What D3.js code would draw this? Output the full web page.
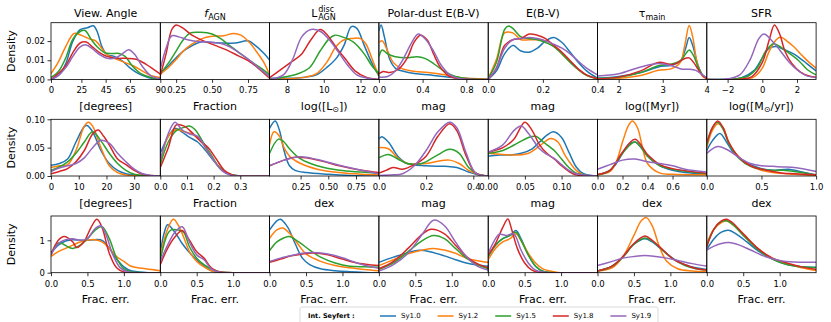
<!DOCTYPE html>
<html lang="en">
<head>
<meta charset="UTF-8">
<title>Seyfert KDE grid</title>
<script src="https://d3js.org/d3.v7.min.js"></script>
<style>
  body { margin: 0; background: #fff; }
  svg text { font-family: "DejaVu Sans", sans-serif; fill: #000; }
</style>
</head>
<body>
<script>
// series names and colours (matplotlib tab10)
const seriesNames = ["Sy1.0", "Sy1.2", "Sy1.5", "Sy1.8", "Sy1.9"];
const seriesColors = ["#1f77b4", "#ff7f0e", "#2ca02c", "#d62728", "#9467bd"];

// ---- row 1: parameter values ----
const angleDens = [
  [[0,0],[6,0.002],[12,0.008],[18,0.02],[24,0.026],[30,0.027],[35,0.028],[38,0.025],[42,0.017],[46,0.013],[52,0.012],[58,0.010],[65,0.006],[72,0.003],[80,0.001],[90,0]],
  [[0,0.003],[6,0.009],[12,0.017],[19,0.024],[25,0.023],[32,0.021],[37,0.02],[42,0.016],[46,0.013],[52,0.011],[60,0.009],[68,0.007],[75,0.0045],[82,0.002],[90,0.001]],
  [[0,0.001],[6,0.004],[12,0.011],[18,0.021],[24,0.025],[28,0.0255],[33,0.021],[38,0.017],[44,0.014],[50,0.0135],[56,0.0135],[61,0.012],[67,0.007],[74,0.003],[82,0.001],[90,0]],
  [[0,0],[6,0.003],[12,0.007],[18,0.014],[24,0.019],[29,0.0195],[34,0.017],[40,0.014],[46,0.012],[54,0.011],[62,0.011],[70,0.0105],[78,0.008],[85,0.005],[90,0.0028]],
  [[0,0],[6,0.002],[12,0.006],[18,0.012],[24,0.017],[29,0.018],[34,0.016],[40,0.013],[46,0.011],[52,0.011],[58,0.013],[64,0.0155],[69,0.013],[75,0.007],[82,0.002],[90,0.0003]]
];
const fagnDens = [
  [[0.14,0.1],[0.2,0.25],[0.25,0.38],[0.3,0.5],[0.35,0.58],[0.42,0.66],[0.5,0.65],[0.58,0.64],[0.66,0.64],[0.75,0.68],[0.8,0.6],[0.86,0.46],[0.9,0.34]],
  [[0.14,0.09],[0.2,0.22],[0.25,0.35],[0.3,0.5],[0.36,0.62],[0.43,0.72],[0.5,0.76],[0.58,0.77],[0.65,0.81],[0.7,0.78],[0.76,0.65],[0.82,0.45],[0.86,0.3],[0.9,0.08]],
  [[0.14,0.1],[0.2,0.3],[0.25,0.5],[0.3,0.7],[0.35,0.82],[0.42,0.83],[0.5,0.8],[0.56,0.72],[0.62,0.6],[0.7,0.45],[0.78,0.3],[0.85,0.18],[0.9,0.08]],
  [[0.14,0.07],[0.18,0.45],[0.22,0.88],[0.25,0.96],[0.3,0.9],[0.36,0.78],[0.44,0.68],[0.52,0.6],[0.6,0.52],[0.68,0.42],[0.75,0.33],[0.82,0.2],[0.9,0.02]],
  [[0.14,0.18],[0.18,0.55],[0.22,0.77],[0.27,0.75],[0.33,0.7],[0.4,0.67],[0.48,0.66],[0.55,0.64],[0.62,0.58],[0.7,0.45],[0.78,0.3],[0.85,0.15],[0.9,0.05]]
];
const ldiscDens = [
  [[7.05,0.02],[8,0.02],[9,0.04],[9.6,0.08],[10.2,0.22],[10.7,0.38],[11.1,0.6],[11.5,0.93],[11.8,0.9],[12.2,0.6],[12.6,0.3],[13,0.06]],
  [[7.05,0],[8,0.01],[9,0.04],[9.6,0.1],[10.2,0.32],[10.6,0.55],[11,0.68],[11.5,0.72],[12,0.72],[12.3,0.62],[12.7,0.3],[13,0.06]],
  [[7.05,0],[8,0.05],[8.6,0.1],[9.2,0.2],[9.8,0.5],[10.3,0.72],[10.6,0.78],[11,0.75],[11.6,0.66],[12.2,0.45],[12.6,0.25],[13,0.1]],
  [[7.05,0.03],[7.6,0.16],[8.2,0.3],[8.8,0.45],[9.3,0.7],[9.8,0.88],[10.2,0.78],[10.7,0.55],[11.2,0.35],[11.7,0.15],[12.3,0.04],[13,0]],
  [[7.05,0],[7.8,0.08],[8.3,0.35],[8.8,0.75],[9.3,0.88],[9.8,0.85],[10.3,0.7],[10.8,0.48],[11.3,0.25],[11.8,0.08],[12.4,0.02],[13,0]]
];
const polarDens = [
  [[0,0.85],[0.02,0.96],[0.05,0.75],[0.1,0.35],[0.15,0.2],[0.25,0.13],[0.35,0.1],[0.5,0.07],[0.7,0.03],[0.85,0.01],[1,0]],
  [[0,0.65],[0.03,0.68],[0.08,0.5],[0.13,0.3],[0.2,0.2],[0.3,0.15],[0.45,0.12],[0.6,0.08],[0.75,0.03],[0.9,0.01],[1,0]],
  [[0,0.4],[0.03,0.52],[0.08,0.45],[0.15,0.4],[0.25,0.38],[0.35,0.4],[0.42,0.37],[0.5,0.28],[0.6,0.14],[0.7,0.05],[0.85,0.01],[1,0]],
  [[0,0.1],[0.04,0.14],[0.1,0.12],[0.18,0.18],[0.26,0.38],[0.32,0.65],[0.38,0.78],[0.44,0.7],[0.5,0.45],[0.56,0.22],[0.64,0.06],[0.75,0.01],[1,0]],
  [[0,0.04],[0.08,0.05],[0.15,0.15],[0.22,0.35],[0.3,0.65],[0.36,0.8],[0.42,0.72],[0.5,0.5],[0.57,0.25],[0.65,0.08],[0.75,0.01],[1,0]]
];
const ebvDens = [
  [[0,0],[0.03,0.15],[0.06,0.45],[0.09,0.6],[0.12,0.5],[0.15,0.48],[0.18,0.55],[0.21,0.68],[0.24,0.74],[0.27,0.65],[0.3,0.48],[0.33,0.3],[0.36,0.15],[0.4,0.02]],
  [[0,0.02],[0.03,0.35],[0.06,0.82],[0.09,0.82],[0.12,0.7],[0.15,0.7],[0.18,0.7],[0.21,0.68],[0.24,0.6],[0.27,0.45],[0.3,0.32],[0.33,0.18],[0.36,0.07],[0.4,0.01]],
  [[0,0.02],[0.03,0.3],[0.06,0.88],[0.075,0.94],[0.09,0.9],[0.12,0.75],[0.15,0.72],[0.18,0.7],[0.21,0.65],[0.24,0.58],[0.27,0.45],[0.3,0.3],[0.33,0.17],[0.36,0.07],[0.4,0.01]],
  [[0,0],[0.03,0.2],[0.06,0.6],[0.09,0.7],[0.12,0.72],[0.15,0.8],[0.18,0.78],[0.21,0.72],[0.24,0.6],[0.27,0.48],[0.3,0.33],[0.33,0.18],[0.36,0.08],[0.4,0.01]],
  [[0,0],[0.03,0.2],[0.06,0.55],[0.09,0.7],[0.12,0.72],[0.15,0.74],[0.18,0.72],[0.21,0.68],[0.24,0.62],[0.27,0.55],[0.3,0.45],[0.33,0.32],[0.36,0.2],[0.4,0.08]]
];
const tauDens = [
  [[1.52,0.02],[2,0.05],[2.5,0.12],[2.9,0.22],[3.2,0.25],[3.4,0.32],[3.52,0.55],[3.6,0.74],[3.68,0.6],[3.8,0.25],[3.9,0.08],[4,0.02]],
  [[1.52,0.01],[2,0.02],[2.5,0.07],[2.9,0.16],[3.2,0.19],[3.4,0.3],[3.5,0.6],[3.6,0.95],[3.68,0.75],[3.78,0.3],[3.9,0.06],[4,0.01]],
  [[1.52,0.02],[2,0.04],[2.5,0.12],[2.9,0.24],[3.2,0.27],[3.4,0.33],[3.52,0.45],[3.6,0.52],[3.7,0.42],[3.8,0.22],[3.9,0.08],[4,0.02]],
  [[1.52,0.01],[2,0.04],[2.5,0.15],[2.9,0.3],[3.2,0.26],[3.35,0.3],[3.5,0.37],[3.6,0.38],[3.7,0.3],[3.8,0.18],[3.9,0.07],[4,0.02]],
  [[1.52,0.06],[2,0.1],[2.5,0.22],[2.9,0.28],[3.2,0.24],[3.45,0.18],[3.6,0.18],[3.75,0.16],[3.9,0.08],[4,0.03]]
];
const sfrDens = [
  [[-3.2,0],[-2,0],[-1.2,0.03],[-0.5,0.15],[0,0.38],[0.4,0.55],[0.8,0.58],[1.3,0.52],[1.8,0.45],[2.4,0.32],[2.8,0.22],[3.1,0.15]],
  [[-3.2,0],[-1.2,0],[-0.5,0.04],[0,0.2],[0.4,0.5],[0.8,0.7],[1.05,0.75],[1.4,0.68],[1.8,0.58],[2.3,0.42],[2.7,0.3],[3.1,0.2]],
  [[-3.2,0],[-1.5,0.01],[-0.8,0.06],[-0.3,0.2],[0.2,0.5],[0.65,0.63],[1.1,0.56],[1.6,0.45],[2.1,0.33],[2.6,0.17],[3.1,0.08]],
  [[-3.2,0],[-1.5,0],[-0.6,0.05],[0,0.3],[0.4,0.7],[0.7,0.96],[1,0.8],[1.3,0.5],[1.7,0.28],[2.2,0.13],[2.7,0.06],[3.1,0.04]],
  [[-3.2,0],[-2,0.01],[-1.3,0.08],[-0.7,0.35],[-0.2,0.72],[0.1,0.8],[0.5,0.7],[1,0.52],[1.5,0.32],[2,0.17],[2.5,0.07],[3.1,0.03]]
];

// ---- row 2: uncertainties ----
const angleErr = [
  [[0,0.019],[3,0.022],[6,0.03],[9,0.06],[12,0.087],[13,0.089],[15,0.078],[18,0.045],[21,0.022],[24,0.01],[27,0.004],[30,0.002],[33,0.0005],[39.4,0]],
  [[0,0.015],[3,0.018],[6,0.02],[9,0.045],[12,0.088],[13.5,0.095],[15,0.088],[18,0.05],[21,0.018],[24,0.006],[27,0.002],[30,0.0005],[39.4,0]],
  [[0,0.01],[3,0.016],[6,0.025],[9,0.04],[12,0.06],[15,0.078],[18,0.062],[21,0.04],[24,0.022],[27,0.01],[30,0.003],[33,0.001],[39.4,0]],
  [[0,0.004],[3,0.008],[6,0.013],[9,0.025],[12,0.045],[15,0.074],[17,0.081],[19,0.07],[21,0.055],[24,0.03],[27,0.02],[30,0.01],[33,0.003],[36,0.001],[39.4,0]],
  [[0,0.008],[3,0.014],[6,0.018],[9,0.022],[12,0.032],[15,0.05],[18,0.063],[21,0.058],[24,0.04],[27,0.025],[30,0.012],[33,0.004],[36,0.001],[39.4,0]]
];
const fagnErr = [
  [[0,0.4],[0.03,0.7],[0.055,0.84],[0.08,0.78],[0.11,0.68],[0.14,0.6],[0.17,0.45],[0.2,0.27],[0.23,0.11],[0.26,0.03],[0.3,0],[0.41,0]],
  [[0,0.22],[0.03,0.7],[0.06,0.82],[0.09,0.78],[0.12,0.74],[0.15,0.62],[0.18,0.42],[0.21,0.22],[0.24,0.08],[0.27,0.02],[0.3,0],[0.41,0]],
  [[0,0.2],[0.03,0.6],[0.06,0.8],[0.09,0.86],[0.11,0.88],[0.13,0.82],[0.16,0.6],[0.19,0.38],[0.22,0.16],[0.25,0.05],[0.28,0.01],[0.41,0]],
  [[0,0.15],[0.03,0.5],[0.06,0.9],[0.09,0.88],[0.12,0.76],[0.15,0.62],[0.18,0.5],[0.21,0.3],[0.24,0.1],[0.27,0.02],[0.3,0],[0.41,0]],
  [[0,0.28],[0.03,0.75],[0.055,0.95],[0.08,0.82],[0.11,0.74],[0.14,0.7],[0.17,0.5],[0.2,0.28],[0.23,0.1],[0.26,0.02],[0.3,0],[0.41,0]]
];
const ldiscErr = [
  [[-0.03,0.84],[0.02,0.97],[0.06,0.8],[0.1,0.45],[0.15,0.18],[0.2,0.1],[0.3,0.06],[0.5,0.03],[0.7,0.01],[0.957,0]],
  [[-0.03,0.55],[0.01,0.78],[0.06,0.7],[0.1,0.5],[0.15,0.35],[0.25,0.22],[0.4,0.12],[0.6,0.06],[0.8,0.03],[0.957,0.02]],
  [[-0.03,0.4],[0.05,0.65],[0.1,0.6],[0.15,0.48],[0.25,0.3],[0.4,0.18],[0.6,0.1],[0.8,0.07],[0.957,0.05]],
  [[-0.03,0.18],[0.1,0.28],[0.2,0.33],[0.3,0.32],[0.45,0.26],[0.6,0.18],[0.8,0.1],[0.957,0.06]],
  [[-0.03,0.18],[0.1,0.28],[0.25,0.34],[0.4,0.29],[0.6,0.19],[0.8,0.1],[0.957,0.04]]
];
const polarErr = [
  [[0,0.65],[0.01,0.69],[0.04,0.6],[0.08,0.35],[0.12,0.22],[0.2,0.18],[0.28,0.17],[0.33,0.15],[0.38,0.07],[0.42,0.02],[0.463,0]],
  [[0,0.5],[0.04,0.48],[0.08,0.32],[0.12,0.22],[0.2,0.22],[0.26,0.27],[0.3,0.28],[0.34,0.22],[0.38,0.1],[0.42,0.03],[0.463,0]],
  [[0,0.32],[0.04,0.38],[0.08,0.3],[0.12,0.22],[0.18,0.22],[0.24,0.35],[0.3,0.47],[0.34,0.4],[0.38,0.15],[0.42,0.03],[0.463,0]],
  [[0,0.05],[0.03,0.1],[0.06,0.15],[0.1,0.12],[0.15,0.2],[0.2,0.35],[0.25,0.7],[0.3,0.92],[0.33,0.8],[0.37,0.35],[0.41,0.05],[0.463,0]],
  [[0,0.01],[0.06,0.02],[0.1,0.04],[0.15,0.18],[0.2,0.45],[0.25,0.78],[0.3,0.95],[0.33,0.85],[0.37,0.4],[0.41,0.05],[0.463,0]]
];
const ebvErr = [
  [[0,0.35],[0.015,0.37],[0.03,0.37],[0.045,0.4],[0.06,0.48],[0.07,0.6],[0.08,0.72],[0.089,0.78],[0.1,0.68],[0.11,0.42],[0.12,0.16],[0.13,0.04],[0.149,0]],
  [[0,0.4],[0.02,0.38],[0.04,0.37],[0.055,0.4],[0.07,0.53],[0.085,0.66],[0.095,0.6],[0.105,0.36],[0.12,0.1],[0.13,0.02],[0.149,0]],
  [[0,0.4],[0.02,0.45],[0.04,0.58],[0.055,0.68],[0.065,0.7],[0.075,0.6],[0.09,0.45],[0.1,0.3],[0.11,0.15],[0.12,0.05],[0.135,0.01],[0.149,0]],
  [[0,0.42],[0.02,0.5],[0.035,0.65],[0.05,0.95],[0.06,0.8],[0.07,0.55],[0.08,0.4],[0.09,0.3],[0.1,0.18],[0.11,0.08],[0.12,0.02],[0.149,0]],
  [[0,0.42],[0.02,0.55],[0.035,0.8],[0.045,0.88],[0.055,0.75],[0.07,0.48],[0.08,0.38],[0.09,0.31],[0.1,0.2],[0.11,0.1],[0.12,0.04],[0.149,0]]
];
const tauErr = [
  [[0,0.02],[0.1,0.1],[0.15,0.22],[0.2,0.4],[0.25,0.56],[0.3,0.6],[0.35,0.5],[0.4,0.35],[0.5,0.18],[0.6,0.1],[0.7,0.06],[0.874,0.04]],
  [[0,0.02],[0.1,0.08],[0.15,0.25],[0.2,0.6],[0.25,0.9],[0.28,0.97],[0.32,0.85],[0.36,0.5],[0.4,0.22],[0.5,0.05],[0.6,0.03],[0.874,0.02]],
  [[0,0.02],[0.1,0.1],[0.2,0.4],[0.3,0.6],[0.4,0.35],[0.5,0.18],[0.6,0.12],[0.874,0.04]],
  [[0,0.03],[0.1,0.1],[0.2,0.42],[0.3,0.65],[0.4,0.38],[0.5,0.2],[0.6,0.13],[0.874,0.05]],
  [[0,0.12],[0.1,0.2],[0.2,0.28],[0.3,0.3],[0.4,0.25],[0.5,0.22],[0.6,0.18],[0.7,0.12],[0.874,0.07]]
];
const sfrErr = [
  [[0,0.45],[0.05,0.62],[0.12,0.75],[0.18,0.6],[0.25,0.4],[0.35,0.25],[0.5,0.13],[0.6,0.1],[0.75,0.12],[0.85,0.08],[1,0.02]],
  [[0,0.5],[0.05,0.8],[0.1,0.92],[0.15,0.85],[0.2,0.6],[0.3,0.32],[0.4,0.18],[0.5,0.1],[0.6,0.06],[0.8,0.03],[1,0.01]],
  [[0,0.55],[0.05,0.85],[0.1,0.95],[0.15,0.82],[0.2,0.58],[0.3,0.3],[0.4,0.17],[0.5,0.12],[0.6,0.1],[0.7,0.1],[0.8,0.08],[1,0.02]],
  [[0,0.58],[0.05,0.85],[0.1,0.97],[0.15,0.85],[0.2,0.6],[0.3,0.32],[0.4,0.18],[0.5,0.12],[0.6,0.08],[0.7,0.05],[0.8,0.04],[1,0.02]],
  [[0,0.4],[0.1,0.52],[0.2,0.45],[0.3,0.32],[0.4,0.22],[0.5,0.18],[0.6,0.17],[0.7,0.16],[0.8,0.15],[1,0.08]]
];

// ---- row 3: fractional errors ----
const angleFrac = [
  [[0,0.6],[0.1,0.85],[0.2,0.98],[0.3,1.02],[0.4,1.0],[0.5,1.0],[0.6,1.02],[0.7,1.0],[0.8,0.75],[0.9,0.42],[1.0,0.18],[1.1,0.06],[1.3,0.01],[1.5,0]],
  [[0,0.5],[0.1,0.65],[0.2,0.75],[0.3,0.85],[0.4,0.95],[0.5,1.0],[0.6,1.02],[0.7,0.95],[0.8,0.75],[0.9,0.5],[1.0,0.35],[1.1,0.2],[1.3,0.12],[1.5,0.06]],
  [[0,0.6],[0.1,0.92],[0.15,0.9],[0.25,0.78],[0.3,0.75],[0.4,0.85],[0.5,1.05],[0.6,1.3],[0.7,1.42],[0.8,1.05],[0.9,0.45],[1.0,0.12],[1.1,0.03],[1.5,0]],
  [[0,0.55],[0.1,1.0],[0.18,1.12],[0.3,0.95],[0.35,0.78],[0.45,0.95],[0.55,1.4],[0.63,1.65],[0.7,1.4],[0.8,0.6],[0.9,0.15],[1.0,0.02],[1.5,0]],
  [[0,0.55],[0.1,0.9],[0.2,1.02],[0.3,1.05],[0.4,1.0],[0.5,1.05],[0.6,1.35],[0.68,1.45],[0.75,1.2],[0.85,0.55],[0.95,0.15],[1.05,0.03],[1.5,0]]
];
const fagnFrac = [
  [[0,0.6],[0.05,1.2],[0.1,1.48],[0.2,1.25],[0.3,0.9],[0.4,0.62],[0.5,0.4],[0.6,0.2],[0.7,0.06],[0.8,0.01],[1.0,0],[1.5,0]],
  [[0,0.5],[0.1,1.35],[0.18,1.65],[0.25,1.45],[0.32,1.1],[0.4,0.65],[0.5,0.35],[0.6,0.18],[0.7,0.06],[0.8,0.01],[1.0,0],[1.5,0]],
  [[0,0.4],[0.1,1.2],[0.15,1.32],[0.25,1.32],[0.32,1.25],[0.4,0.8],[0.5,0.45],[0.6,0.25],[0.7,0.12],[0.8,0.04],[1.0,0],[1.5,0]],
  [[0,0.25],[0.1,0.75],[0.2,1.1],[0.3,1.3],[0.4,1.0],[0.5,0.65],[0.6,0.45],[0.7,0.15],[0.8,0.03],[1.0,0],[1.5,0]],
  [[0,0.35],[0.1,0.85],[0.2,1.25],[0.3,1.42],[0.4,0.95],[0.5,0.55],[0.6,0.4],[0.7,0.12],[0.8,0.02],[1.0,0],[1.5,0]]
];
const ldiscFrac = [
  [[0,1.32],[0.1,1.6],[0.15,1.65],[0.25,1.4],[0.35,0.9],[0.45,0.45],[0.55,0.25],[0.7,0.12],[0.9,0.06],[1.1,0.03],[1.3,0.01],[1.5,0]],
  [[0,1.06],[0.1,1.32],[0.18,1.38],[0.3,1.15],[0.4,0.85],[0.5,0.58],[0.7,0.35],[0.9,0.22],[1.1,0.15],[1.3,0.1],[1.5,0.06]],
  [[0,0.68],[0.1,0.95],[0.2,1.08],[0.27,1.12],[0.4,0.95],[0.55,0.7],[0.7,0.48],[0.9,0.3],[1.1,0.2],[1.3,0.18],[1.5,0.17]],
  [[0,0.32],[0.15,0.42],[0.3,0.52],[0.45,0.58],[0.6,0.61],[0.8,0.55],[1.0,0.42],[1.2,0.3],[1.4,0.24],[1.5,0.22]],
  [[0,0.35],[0.15,0.45],[0.3,0.53],[0.45,0.6],[0.6,0.62],[0.8,0.58],[1.0,0.46],[1.2,0.3],[1.4,0.18],[1.5,0.14]]
];
const polarFrac = [
  [[0,0.32],[0.2,0.48],[0.4,0.62],[0.55,0.69],[0.7,0.65],[0.9,0.52],[1.05,0.4],[1.2,0.3],[1.35,0.24],[1.5,0.2]],
  [[0,0.22],[0.2,0.4],[0.4,0.58],[0.6,0.7],[0.75,0.75],[0.9,0.7],[1.05,0.6],[1.2,0.45],[1.35,0.37],[1.5,0.32]],
  [[0,0.1],[0.2,0.3],[0.4,0.65],[0.6,1.0],[0.75,1.15],[0.9,1.05],[1.05,0.75],[1.2,0.45],[1.35,0.25],[1.5,0.12]],
  [[0,0.12],[0.2,0.35],[0.4,0.75],[0.6,1.2],[0.72,1.34],[0.9,1.2],[1.05,0.85],[1.2,0.5],[1.35,0.28],[1.5,0.15]],
  [[0,0.05],[0.2,0.25],[0.4,0.6],[0.6,1.2],[0.75,1.62],[0.9,1.45],[1.05,0.95],[1.2,0.5],[1.35,0.2],[1.5,0.08]]
];
const ebvFrac = [
  [[0,0.5],[0.1,0.85],[0.2,1.05],[0.3,1.15],[0.38,1.3],[0.45,1.05],[0.55,0.55],[0.65,0.2],[0.75,0.05],[0.9,0.01],[1.0,0],[1.5,0]],
  [[0,0.4],[0.1,0.75],[0.2,0.95],[0.3,1.05],[0.38,1.2],[0.45,1.0],[0.55,0.6],[0.65,0.3],[0.75,0.12],[0.85,0.05],[0.95,0.01],[1.1,0],[1.5,0]],
  [[0,0.5],[0.1,0.85],[0.2,1.05],[0.3,1.15],[0.38,1.25],[0.45,1.0],[0.55,0.55],[0.65,0.2],[0.75,0.05],[0.9,0],[1.5,0]],
  [[0,0.55],[0.1,0.9],[0.2,1.4],[0.27,1.66],[0.32,1.35],[0.4,0.75],[0.5,0.3],[0.6,0.08],[0.7,0.01],[0.8,0],[1.5,0]],
  [[0,0.6],[0.1,1.05],[0.15,1.19],[0.25,1.15],[0.35,1.2],[0.45,0.7],[0.55,0.3],[0.65,0.08],[0.8,0.01],[1.0,0],[1.5,0]]
];
const tauFrac = [
  [[0,0.05],[0.2,0.2],[0.35,0.5],[0.5,0.88],[0.65,1.05],[0.75,0.95],[0.9,0.68],[1.05,0.42],[1.2,0.25],[1.35,0.15],[1.5,0.1]],
  [[0,0.05],[0.2,0.15],[0.35,0.5],[0.5,1.15],[0.6,1.6],[0.67,1.7],[0.75,1.45],[0.85,0.8],[0.95,0.35],[1.1,0.12],[1.3,0.05],[1.5,0.03]],
  [[0,0.05],[0.2,0.2],[0.35,0.48],[0.5,0.88],[0.65,1.07],[0.75,0.98],[0.9,0.68],[1.05,0.4],[1.2,0.22],[1.35,0.12],[1.5,0.08]],
  [[0,0.05],[0.2,0.2],[0.35,0.5],[0.5,0.9],[0.65,1.13],[0.75,1.0],[0.9,0.7],[1.05,0.4],[1.2,0.25],[1.35,0.13],[1.5,0.08]],
  [[0,0.22],[0.2,0.35],[0.35,0.45],[0.5,0.5],[0.65,0.53],[0.8,0.5],[0.95,0.45],[1.1,0.38],[1.3,0.28],[1.5,0.2]]
];
const sfrFrac = [
  [[0,0.72],[0.1,1.05],[0.2,1.25],[0.3,1.31],[0.4,1.2],[0.55,0.95],[0.7,0.68],[0.9,0.42],[1.1,0.25],[1.3,0.18],[1.5,0.17]],
  [[0,0.9],[0.1,1.35],[0.2,1.55],[0.27,1.6],[0.35,1.5],[0.5,1.2],[0.7,0.75],[0.9,0.45],[1.1,0.28],[1.3,0.15],[1.5,0.07]],
  [[0,0.85],[0.1,1.35],[0.2,1.58],[0.27,1.6],[0.35,1.5],[0.5,1.15],[0.7,0.72],[0.9,0.42],[1.1,0.25],[1.3,0.18],[1.5,0.15]],
  [[0,0.8],[0.1,1.35],[0.2,1.6],[0.27,1.65],[0.35,1.55],[0.5,1.2],[0.7,0.75],[0.9,0.45],[1.1,0.3],[1.3,0.18],[1.5,0.1]],
  [[0,0.7],[0.1,0.82],[0.2,0.9],[0.3,0.93],[0.45,0.85],[0.6,0.7],[0.8,0.5],[1.0,0.38],[1.2,0.33],[1.35,0.32],[1.5,0.32]]
];

// axis settings per row
const rowData = [
  [angleDens, fagnDens, ldiscDens, polarDens, ebvDens, tauDens, sfrDens],
  [angleErr, fagnErr, ldiscErr, polarErr, ebvErr, tauErr, sfrErr],
  [angleFrac, fagnFrac, ldiscFrac, polarFrac, ebvFrac, tauFrac, sfrFrac]
];
const xDomains = [
  [[0,90],[0.14,0.90],[7.05,13.0],[0,1.0],[0,0.4],[1.52,4],[-3.2,3.1]],
  [[0,39.4],[0,0.41],[-0.03,0.957],[0,0.463],[0,0.149],[0,0.874],[0,1.0]],
  [[0,1.5],[0,1.5],[0,1.5],[0,1.5],[0,1.5],[0,1.5],[0,1.5]]
];
const xTicks = [
  [[0,25,45,65,90],[0.25,0.5,0.75],[8,10,12],[0,0.4,0.8],[0,0.2,0.4],[2,3,4],[-2,0,2]],
  [[0,10,20,30],[0,0.1,0.2,0.3],[0.25,0.5,0.75],[0,0.2,0.4],[0,0.05,0.1],[0,0.2,0.4,0.6],[0,0.5,1.0]],
  [[0,0.5,1.0],[0,0.5,1.0],[0,0.5,1.0],[0,0.5,1.0],[0,0.5,1.0],[0,0.5,1.0],[0,0.5,1.0]]
];
const xFormats = [
  ["d", ".2f", "d", ".1f", ".1f", "d", "d"],
  ["d", ".1f", ".2f", ".1f", ".2f", ".1f", ".1f"],
  [".1f", ".1f", ".1f", ".1f", ".1f", ".1f", ".1f"]
];
const yMaxFirst = [0.0296, 0.10, 1.75];
const yMaxOther = [1, 1, 1.75];
const yTicks = [[0, 0.01, 0.02], [0, 0.05, 0.10], [0, 1]];
const yFormats = [".2f", ".2f", "d"];
const xLabels = [
  ["[degrees]", "Fraction", "log([L@])", "mag", "mag", "log([Myr])", "log([M@/yr])"],
  ["[degrees]", "Fraction", "dex", "mag", "mag", "dex", "dex"],
  ["Frac. err.", "Frac. err.", "Frac. err.", "Frac. err.", "Frac. err.", "Frac. err.", "Frac. err."]
];

const width = 831, height = 322;
const left0 = 51, panelW = 109.3, panelH = 56.7;
const rowTops = [22.7, 119.3, 216];
const tickFont = 8.5;

const svg = d3.select("body").append("svg")
  .attr("width", width).attr("height", height);

const line = d3.line().curve(d3.curveCatmullRom.alpha(0.5));

function minusFormat(fmt) {
  const f = d3.format(fmt);
  return v => f(v).replace("-", "\u2212");
}

// write a label where "@" stands for a subscripted sun symbol
function writeLabel(sel, txt) {
  const parts = txt.split("@");
  parts.forEach((p, i) => {
    if (i > 0) {
      sel.append("tspan").attr("font-size", 8).attr("dy", 2.5).text("\u2299");
      sel.append("tspan").attr("dy", -2.5).text(p);
    } else {
      sel.append("tspan").text(p);
    }
  });
}

rowData.forEach((panels, r) => {
  panels.forEach((series, c) => {
    const x0 = left0 + c * panelW;
    const y0 = rowTops[r];
    const x = d3.scaleLinear().domain(xDomains[r][c]).range([x0, x0 + panelW]);
    const yMax = c === 0 ? yMaxFirst[r] : yMaxOther[r];
    const y = d3.scaleLinear().domain([0, yMax]).range([y0 + panelH, y0]);

    const clipId = `clip-${r}-${c}`;
    svg.append("clipPath").attr("id", clipId)
      .append("rect").attr("x", x0).attr("y", y0).attr("width", panelW).attr("height", panelH);

    const g = svg.append("g").attr("clip-path", `url(#${clipId})`);
    series.forEach((pts, i) => {
      g.append("path")
        .attr("d", line(pts.map(p => [x(p[0]), y(p[1])])))
        .attr("fill", "none")
        .attr("stroke", seriesColors[i])
        .attr("stroke-width", 1.5);
    });

    const xa = svg.append("g")
      .attr("transform", `translate(0,${y0 + panelH})`)
      .call(d3.axisBottom(x).tickValues(xTicks[r][c]).tickSize(3.5).tickPadding(4.3)
        .tickFormat(minusFormat(xFormats[r][c])));
    xa.select(".domain").remove();
    xa.selectAll("text").attr("font-size", tickFont).attr("font-family", "DejaVu Sans");
    xa.selectAll("line").attr("stroke-width", 0.8);

    if (c === 0) {
      const ya = svg.append("g")
        .attr("transform", `translate(${x0},0)`)
        .call(d3.axisLeft(y).tickValues(yTicks[r]).tickSize(3.5).tickPadding(2.5)
          .tickFormat(d3.format(yFormats[r])));
      ya.select(".domain").remove();
      ya.selectAll("text").attr("font-size", tickFont).attr("font-family", "DejaVu Sans");
      ya.selectAll("line").attr("stroke-width", 0.8);

      svg.append("text")
        .attr("transform", `translate(11.5,${y0 + panelH / 2}) rotate(-90)`)
        .attr("text-anchor", "middle").attr("dy", "0.35em")
        .attr("font-size", 11).text("Density");
    }

    svg.append("rect")
      .attr("x", x0).attr("y", y0).attr("width", panelW).attr("height", panelH)
      .attr("fill", "none").attr("stroke", "#000").attr("stroke-width", 0.8);

    const lab = svg.append("text")
      .attr("x", x0 + panelW / 2).attr("y", y0 + panelH + 30.5)
      .attr("text-anchor", "middle").attr("font-size", 11);
    writeLabel(lab, xLabels[r][c]);
  });
});

// column titles
const cx = c => left0 + c * panelW + panelW / 2;
const ty = 17;
svg.append("text").attr("x", cx(0)).attr("y", ty).attr("text-anchor", "middle")
  .attr("font-size", 11).text("View. Angle");
const t1 = svg.append("text").attr("x", cx(1)).attr("y", ty).attr("text-anchor", "middle").attr("font-size", 11);
t1.append("tspan").attr("font-style", "italic").text("f");
t1.append("tspan").attr("font-size", 8).attr("dy", 2.5).text("AGN");
const t2 = svg.append("g");
t2.append("text").attr("x", cx(2) - 13).attr("y", ty).attr("font-size", 11).text("L");
t2.append("text").attr("x", cx(2) - 6).attr("y", ty - 5).attr("font-size", 8).text("disc");
t2.append("text").attr("x", cx(2) - 6).attr("y", ty + 3).attr("font-size", 8).text("AGN");
svg.append("text").attr("x", cx(3)).attr("y", ty).attr("text-anchor", "middle")
  .attr("font-size", 11).text("Polar-dust E(B-V)");
svg.append("text").attr("x", cx(4)).attr("y", ty).attr("text-anchor", "middle")
  .attr("font-size", 11).text("E(B-V)");
const t5 = svg.append("text").attr("x", cx(5)).attr("y", ty).attr("text-anchor", "middle").attr("font-size", 11);
t5.append("tspan").text("\u03c4");
t5.append("tspan").attr("font-size", 8).attr("dy", 2.5).text("main");
svg.append("text").attr("x", cx(6)).attr("y", ty).attr("text-anchor", "middle")
  .attr("font-size", 11).text("SFR");

// legend
const leg = svg.append("g");
leg.append("rect").attr("x", 300).attr("y", 307).attr("width", 358).attr("height", 18)
  .attr("rx", 2).attr("fill", "#fff").attr("stroke", "#d0d0d0").attr("stroke-width", 0.8);
leg.append("text").attr("x", 308).attr("y", 316).attr("dy", "0.35em")
  .attr("font-size", 6.5).attr("font-weight", "bold").text("Int.  Seyfert :");
seriesNames.forEach((name, i) => {
  const lx = 380 + i * 57.6;
  leg.append("line").attr("x1", lx).attr("x2", lx + 16).attr("y1", 316).attr("y2", 316)
    .attr("stroke", seriesColors[i]).attr("stroke-width", 1.5);
  leg.append("text").attr("x", lx + 21).attr("y", 316).attr("dy", "0.35em")
    .attr("font-size", 7).text(name);
});
</script>
</body>
</html>
